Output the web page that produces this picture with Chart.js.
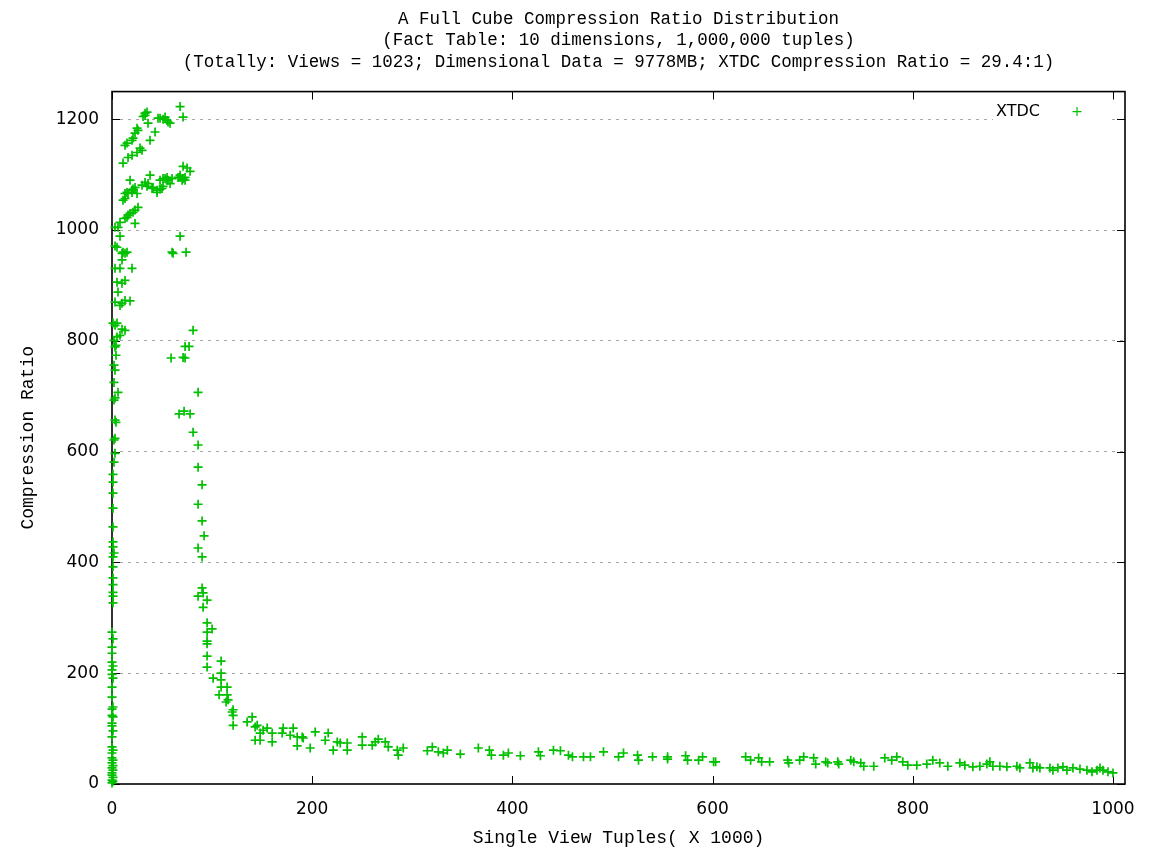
<!DOCTYPE html>
<html>
<head>
<meta charset="utf-8">
<title>A Full Cube Compression Ratio Distribution</title>
<script src="https://cdn.jsdelivr.net/npm/chart.js@4.4.1/dist/chart.umd.min.js"></script>
<style>
  html, body { margin: 0; padding: 0; background: #fff; }
  #chart { display: block; }
</style>
</head>
<body>
<canvas id="chart" width="1153" height="850"></canvas>
<script>
const titleLines = [
  'A Full Cube Compression Ratio Distribution',
  '(Fact Table: 10 dimensions, 1,000,000 tuples)',
  '(Totally: Views = 1023; Dimensional Data = 9778MB; XTDC Compression Ratio = 29.4:1)'
];
const xTitle = 'Single View Tuples( X 1000)';
const yTitle = 'Compression Ratio';
const seriesLabel = 'XTDC';
const xTickValues = [0, 200, 400, 600, 800, 1000];
const yTickValues = [0, 200, 400, 600, 800, 1000, 1200];

// [tuples (x1000), compression ratio] per view
const spineAtZero = [
  [0,2],[1,5],[0,7],[1,12],[0,16],[0,20],[1,25],[0,29],[1,33],[0,38],[1,43],[0,47],
  [0,56],[1,61],[0,67],[0,85],[1,96],[0,105],[0,110],[1,121],[0,124],[0,135],[1,139],
  [0,157],[0,175],[1,191],[0,198],[0,206],[1,213],[0,220],[0,236],[0,247],[1,262],[0,274],
  [1,327],[1,339],[1,346],[1,360],[1,372],[1,392],[1,410],[2,417],[1,428],[1,437],
  [1,464],[1,498],[1,525],[1,545],[1,559],[2,581],[3,597],[2,621],[3,624],[4,653],
  [3,657],[2,693],[6,707],[3,697],[2,725],[3,747],[2,756],[4,774],[3,789],[2,801],
  [5,807],[4,792],[1,832],[3,828],[5,832],[8,810],[10,821],[13,819]
];

const upperRise = [
  [3,931],[8,931],[20,931],[5,906],[10,904],[13,909],[6,888],[3,870],[8,864],[13,873],
  [18,872],[10,868],[3,971],[5,969],[8,989],[10,958],[13,958],[11,960],[15,960],[10,946],
  [3,1005],[6,1005],[8,1014],[23,1012],[13,1021],[15,1023],[16,1027],[18,1030],[21,1032],
  [23,1036],[26,1041],[11,1054],[13,1057],[13,1066],[16,1066],[20,1068],[15,1068],[25,1066],
  [20,1072],[21,1074],[23,1077],[18,1090],[11,1121],[16,1131],[20,1135],[25,1140],[28,1148],
  [30,1144],[13,1153],[15,1157],[20,1162],[21,1166],[23,1175],[25,1184],[26,1180],[31,1205],
  [33,1207],[35,1213],[33,1211],[36,1193],[38,1162],[43,1177],[46,1202],[48,1202],[51,1200],
  [53,1204],[55,1198],[56,1195],[58,1193],[68,1223],[71,1204]
];

const secondBand = [
  [30,1081],[33,1086],[35,1079],[36,1084],[38,1099],[40,1075],[41,1077],[45,1068],[45,1072],
  [48,1074],[48,1090],[50,1075],[51,1079],[51,1093],[53,1093],[55,1090],[55,1095],[56,1090],
  [58,1084],[60,1093],[66,1095],[68,1099],[68,1095],[70,1090],[71,1093],[73,1095],[73,1090],
  [71,1115],[75,1112],[78,1106]
];

const fallingArm = [
  [68,989],[60,960],[61,958],[74,960],[81,819],[73,790],[77,790],[59,769],[71,770],[73,769],
  [86,707],[67,668],[72,673],[78,668],[81,635],[86,612],[86,572],[90,540],[86,505],[90,475],
  [92,448],[86,426],[90,410],[90,354],[86,339],[91,345],[95,332],[91,319],[95,291],[100,280],
  [95,274],[95,258],[95,253],[95,231],[95,211],[109,222],[101,191],[109,200],[109,188],
  [109,175],[115,175],[107,161],[115,161],[114,148],[116,152],[121,134],[120,130],[121,124],
  [121,106],[135,112],[140,121],[143,103],[145,106],[143,79]
];

const longTail = [
  [148,92],[151,97],[155,101],[148,79],[160,76],[160,92],[170,92],[171,101],[178,88],[181,101],
  [185,85],[190,85],[191,83],[185,69],[198,65],[203,94],[213,79],[216,92],[221,61],[225,76],
  [228,74],[235,74],[235,61],[250,85],[250,70],[260,70],[263,76],[266,81],[273,76],[276,67],
  [285,61],[286,52],[291,65],[315,60],[320,67],[326,58],[331,56],[335,61],[348,54],[366,65],
  [377,61],[379,52],[391,52],[396,56],[408,51],[426,58],[428,51],[441,61],[448,60],[456,52],
  [460,49],[471,49],[478,49],[491,58],[506,49],[511,56],[525,52],[526,43],[540,49],[555,45],
  [555,49],[573,51],[575,43],[586,43],[590,49],[601,40],[603,40],[633,49],[638,43],[646,47],
  [649,40],[657,40],[675,43],[676,38],[687,43],[691,49],[701,47],[703,36],[713,40],[715,38],
  [725,40],[726,36],[738,43],[741,40],[748,38],[751,32],[761,32],[772,47],[779,43],[784,49],
  [790,40],[795,34],[804,34],[814,36],[820,43],[827,38],[835,32],[847,38],[852,34],[860,31],
  [867,32],[874,36],[877,40],[880,32],[887,32],[894,31],[904,32],[907,29],[917,38],[920,29],
  [924,31],[927,29],[937,29],[940,25],[945,29],[950,31],[954,25],[960,29],[967,27],[974,25],
  [979,22],[984,25],[987,29],[990,25],[995,22],[1000,20]
];

const GREEN = '#00c000';
const TIC = 8;
const MONO = '"Liberation Mono", "DejaVu Sans Mono", monospace';
const SANS = '"DejaVu Sans", sans-serif';

const points = [...spineAtZero, ...upperRise, ...secondBand, ...fallingArm, ...longTail]
  .map(([x, y]) => ({ x, y }));

// border, inward tics on all four sides, and the key in the top right corner
const frameAndKey = {
  id: 'frameAndKey',
  beforeDatasetsDraw(chart) {
    const { ctx, chartArea: a, scales: { x, y } } = chart;
    ctx.save();

    ctx.fillStyle = '#fff';
    ctx.fillRect(a.right - 132, a.top + 9, 118, 22);

    ctx.strokeStyle = '#000';
    ctx.lineWidth = 1;
    ctx.beginPath();
    x.ticks.forEach(t => {
      const px = Math.round(x.getPixelForValue(t.value)) + 0.5;
      ctx.moveTo(px, a.bottom); ctx.lineTo(px, a.bottom - TIC);
      ctx.moveTo(px, a.top); ctx.lineTo(px, a.top + TIC);
    });
    y.ticks.forEach(t => {
      const py = Math.round(y.getPixelForValue(t.value)) + 0.5;
      ctx.moveTo(a.left, py); ctx.lineTo(a.left + TIC, py);
      ctx.moveTo(a.right, py); ctx.lineTo(a.right - TIC, py);
    });
    ctx.stroke();

    ctx.lineWidth = 1.6;
    ctx.strokeRect(a.left, a.top, a.width, a.height);

    const ky = a.top + 20;
    ctx.fillStyle = '#000';
    ctx.font = '16px ' + SANS;
    ctx.textAlign = 'right';
    ctx.textBaseline = 'middle';
    ctx.fillText(seriesLabel, a.right - 85, ky);

    const kx = a.right - 48;
    ctx.strokeStyle = GREEN;
    ctx.lineWidth = 1.2;
    ctx.beginPath();
    ctx.moveTo(kx - 4.5, ky); ctx.lineTo(kx + 4.5, ky);
    ctx.moveTo(kx, ky - 4.5); ctx.lineTo(kx, ky + 4.5);
    ctx.stroke();

    ctx.restore();
  }
};

function fixedWidth(w) {
  return scale => { scale.width = w; scale.paddingTop = 0; scale.paddingBottom = 0; };
}
function fixedHeight(h) {
  return scale => { scale.height = h; scale.paddingLeft = 0; scale.paddingRight = 0; };
}
function useTicks(values) {
  return scale => { scale.ticks = values.map(value => ({ value })); };
}

new Chart(document.getElementById('chart'), {
  type: 'scatter',
  data: {
    datasets: [{
      label: seriesLabel,
      data: points,
      pointStyle: 'cross',
      pointRadius: 4.5,
      pointBorderWidth: 1.7,
      borderColor: GREEN,
      backgroundColor: GREEN,
      clip: false
    }]
  },
  options: {
    responsive: false,
    animation: false,
    events: [],
    layout: { padding: { left: 0, right: 28, top: 0, bottom: 0 } },
    plugins: {
      legend: { display: false },
      tooltip: { enabled: false },
      title: {
        display: true,
        text: titleLines,
        fullSize: false,
        color: '#000',
        font: { family: MONO, size: 17.5, weight: 'normal', lineHeight: 1.23 },
        padding: { top: 8.5, bottom: 18.5 }
      }
    },
    scales: {
      x: {
        type: 'linear',
        min: 0,
        max: 1012,
        afterBuildTicks: useTicks(xTickValues),
        afterFit: fixedHeight(66),
        border: { display: false },
        grid: { display: false },
        ticks: {
          autoSkip: false,
          maxRotation: 0,
          padding: 7,
          color: '#000',
          font: { family: SANS, size: 17 },
          callback: v => String(v)
        },
        title: {
          display: true,
          text: xTitle,
          color: '#000',
          font: { family: MONO, size: 18 },
          padding: { top: 0, bottom: 1 }
        }
      },
      y: {
        type: 'linear',
        min: 0,
        max: 1250,
        afterBuildTicks: useTicks(yTickValues),
        afterFit: fixedWidth(112),
        border: { display: false, dash: [3, 5] },
        grid: {
          drawTicks: false,
          lineWidth: 1,
          color: ctx => ctx.tick && ctx.tick.value === 0 ? 'rgba(0,0,0,0)' : '#a8a8a8'
        },
        ticks: {
          autoSkip: false,
          padding: 13,
          color: '#000',
          font: { family: SANS, size: 17 },
          callback: v => String(v)
        },
        title: {
          display: true,
          text: yTitle,
          color: '#000',
          font: { family: MONO, size: 18 },
          padding: { top: 17, bottom: 0 }
        }
      }
    }
  },
  plugins: [frameAndKey]
});
</script>
</body>
</html>
